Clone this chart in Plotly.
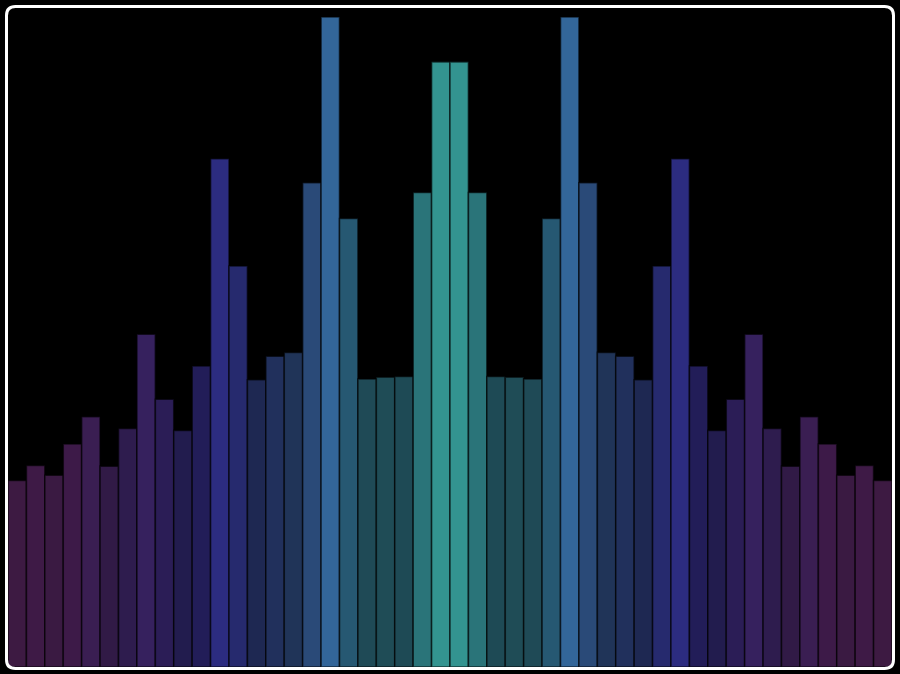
import plotly.graph_objects as go

# Left half of a symmetric spectrum (48 bands total)
left_levels = [28.7, 31.0, 29.5, 34.3, 38.5, 30.9, 36.7, 51.2, 41.2, 36.4, 46.3, 78.2,
               61.7, 44.2, 47.8, 48.4, 74.5, 100.0, 69.0, 44.3, 44.6, 44.7, 73.0, 93.1]
levels = left_levels + left_levels[::-1]
bands = list(range(1, len(levels) + 1))

left_colors = ["#3d1a42", "#3e1a46", "#3a1a42", "#3d1a48", "#3a1e52", "#311a46",
               "#2e1c4e", "#36215e", "#2b1d56", "#221c4e", "#221d58", "#2c2c80",
               "#262a6e", "#1e2852", "#21305c", "#203458", "#2a4a78", "#336699",
               "#265872", "#1f4a56", "#1f4c56", "#1e4a55", "#2a7479", "#339490"]
colors = left_colors + left_colors[::-1]

fig = go.Figure(go.Bar(
    x=bands, y=levels,
    marker=dict(color=colors, line=dict(color="rgba(0,0,0,0.6)", width=1.6)),
    hoverinfo="skip",
))

W, H = 900, 674
L, R, T, B = 8, 8, 17, 7
pw, ph = W - L - R, H - T - B

def px(x):
    return (x - L) / pw

def py(y):
    return 1 - (y - T) / ph

x0, x1, y0, y1, r = 6.5, 893.5, 6.5, 668.5, 9
path = (f"M {px(x0 + r)},{py(y0)} L {px(x1 - r)},{py(y0)} "
        f"Q {px(x1)},{py(y0)} {px(x1)},{py(y0 + r)} "
        f"L {px(x1)},{py(y1 - r)} Q {px(x1)},{py(y1)} {px(x1 - r)},{py(y1)} "
        f"L {px(x0 + r)},{py(y1)} Q {px(x0)},{py(y1)} {px(x0)},{py(y1 - r)} "
        f"L {px(x0)},{py(y0 + r)} Q {px(x0)},{py(y0)} {px(x0 + r)},{py(y0)} Z")

fig.update_layout(
    width=W, height=H,
    margin=dict(l=L, r=R, t=T, b=B, pad=0),
    paper_bgcolor="black", plot_bgcolor="black",
    bargap=0, showlegend=False,
    xaxis=dict(visible=False, range=[0.5, len(levels) + 0.5]),
    yaxis=dict(visible=False, range=[0, 100]),
    shapes=[dict(type="path", xref="paper", yref="paper", path=path,
                 line=dict(color="white", width=3), fillcolor="rgba(0,0,0,0)",
                 layer="above")],
)

fig.write_html("out.html",
               config={"displayModeBar": False, "staticPlot": True},
               post_script="document.body.style.margin='0';document.body.style.background='black';")
